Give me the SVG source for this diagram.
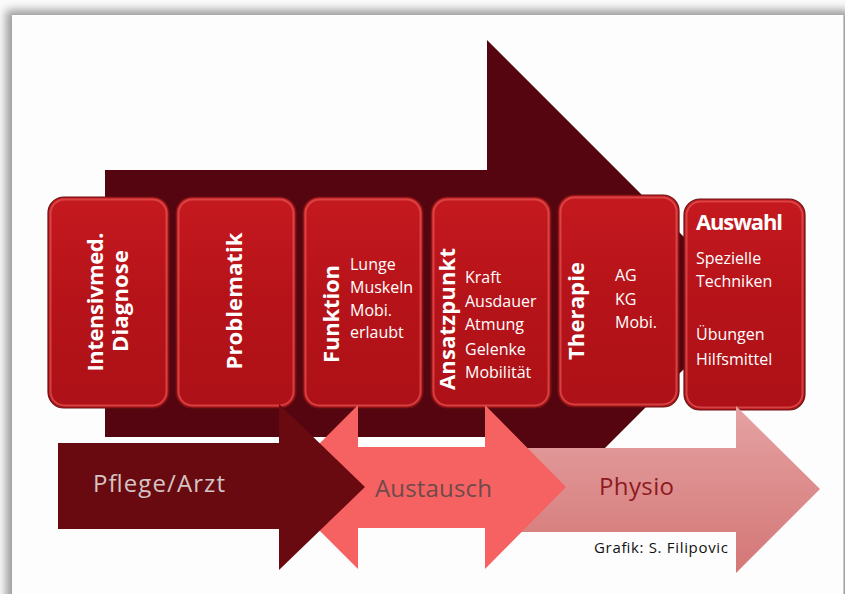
<svg xmlns="http://www.w3.org/2000/svg" width="845" height="594" viewBox="0 0 845 594">
  <defs>
    <filter id="cardShadow" x="-5%" y="-5%" width="110%" height="110%">
      <feGaussianBlur stdDeviation="5"/>
    </filter>
    <linearGradient id="boxGloss" x1="0" y1="0" x2="0" y2="1">
      <stop offset="0" stop-color="#c4191f"/>
      <stop offset="0.5" stop-color="#b51319"/>
      <stop offset="1" stop-color="#ad1117"/>
    </linearGradient>
    <linearGradient id="physioFill" x1="0" y1="0" x2="0" y2="1">
      <stop offset="0" stop-color="#e5a2a2"/>
      <stop offset="1" stop-color="#d47676"/>
    </linearGradient>
    <style>
      .box { fill: url(#boxGloss); stroke: #6a1212; stroke-width: 1.2; }
      .rim { fill: none; stroke: #e25252; stroke-width: 2; opacity: 0.75; }
      .head { font-family: "Open Sans", "DejaVu Sans", sans-serif; font-weight: 700; font-size: 22px; fill: #ffffff; }
      .item { font-family: "Open Sans", "DejaVu Sans", sans-serif; font-size: 16px; fill: #ffffff; }
      .flow { font-family: "Open Sans", "DejaVu Sans", sans-serif; font-size: 24px; }
      .credit { font-family: "Open Sans", "DejaVu Sans", sans-serif; font-size: 15px; fill: #111111; }
    </style>
  </defs>

  <!-- page and card -->
  <rect x="0" y="0" width="845" height="594" fill="#fbfbfb"/>
  <rect x="6" y="10" width="845" height="600" fill="#9a9a9a" filter="url(#cardShadow)"/>
  <rect x="12" y="15" width="831" height="600" fill="#fdfdfd"/>
  <line x1="843.5" y1="15" x2="843.5" y2="594" stroke="#c8c8c8" stroke-width="1"/>

  <!-- large background arrow -->
  <g id="main-arrow">
    <path d="M105,170 L487,170 L487,40 L750,303 L487,566 L487,437 L105,437 Z" fill="#55050f"/>
  </g>

  <!-- step boxes -->
  <g id="box-diagnose">
    <rect class="box" x="48" y="197" width="121" height="211" rx="16"/>
    <rect class="rim" x="50.5" y="199.5" width="116" height="206" rx="14"/>
    <g transform="translate(103,302) rotate(-90)">
      <text class="head" x="0" y="0" text-anchor="middle" textLength="139">Intensivmed.</text>
    </g>
    <g transform="translate(128,301) rotate(-90)">
      <text class="head" x="0" y="0" text-anchor="middle" textLength="102">Diagnose</text>
    </g>
  </g>

  <g id="box-problematik">
    <rect class="box" x="176" y="197" width="120" height="211" rx="16"/>
    <rect class="rim" x="178.5" y="199.5" width="115" height="206" rx="14"/>
    <g transform="translate(242,301) rotate(-90)">
      <text class="head" x="0" y="0" text-anchor="middle" textLength="137">Problematik</text>
    </g>
  </g>

  <g id="box-funktion">
    <rect class="box" x="303" y="197" width="120" height="211" rx="16"/>
    <rect class="rim" x="305.5" y="199.5" width="115" height="206" rx="14"/>
    <g transform="translate(339,314) rotate(-90)">
      <text class="head" x="0" y="0" text-anchor="middle" textLength="98">Funktion</text>
    </g>
    <text class="item" x="350" y="270">Lunge</text>
    <text class="item" x="350" y="293">Muskeln</text>
    <text class="item" x="350" y="316">Mobi.</text>
    <text class="item" x="350" y="338">erlaubt</text>
  </g>

  <g id="box-ansatzpunkt">
    <rect class="box" x="431" y="197" width="120" height="211" rx="16"/>
    <rect class="rim" x="433.5" y="199.5" width="115" height="206" rx="14"/>
    <g transform="translate(455,319) rotate(-90)">
      <text class="head" x="0" y="0" text-anchor="middle" textLength="142">Ansatzpunkt</text>
    </g>
    <text class="item" x="465" y="283">Kraft</text>
    <text class="item" x="465" y="307">Ausdauer</text>
    <text class="item" x="465" y="330">Atmung</text>
    <text class="item" x="465" y="355">Gelenke</text>
    <text class="item" x="465" y="378">Mobilität</text>
  </g>

  <g id="box-therapie">
    <rect class="box" x="558" y="195" width="121" height="212" rx="16"/>
    <rect class="rim" x="560.5" y="197.5" width="116" height="207" rx="14"/>
    <g transform="translate(584,311) rotate(-90)">
      <text class="head" x="0" y="0" text-anchor="middle" textLength="98">Therapie</text>
    </g>
    <text class="item" x="615" y="281">AG</text>
    <text class="item" x="615" y="305">KG</text>
    <text class="item" x="615" y="328">Mobi.</text>
  </g>

  <g id="box-auswahl">
    <rect class="box" x="684" y="199" width="121" height="211" rx="16"/>
    <rect class="rim" x="686.5" y="201.5" width="116" height="206" rx="14"/>
    <text class="head" x="696" y="230" textLength="87">Auswahl</text>
    <text class="item" x="696" y="264">Spezielle</text>
    <text class="item" x="696" y="287">Techniken</text>
    <text class="item" x="696" y="340">Übungen</text>
    <text class="item" x="696" y="365">Hilfsmittel</text>
  </g>

  <!-- lower flow arrows -->
  <g id="flow-physio">
    <path d="M486,448 L736,448 L736,406 L820,489 L736,573 L736,532 L486,532 Z" fill="url(#physioFill)"/>
    <text class="flow" x="599" y="495" fill="#8c1a1e" textLength="75">Physio</text>
  </g>

  <g id="flow-austausch">
    <path d="M276,487 L358,405 L358,447 L485,447 L485,405 L566,487 L485,569 L485,528 L358,528 L358,569 Z" fill="#f66262"/>
    <text class="flow" x="375" y="497" fill="#6e4a4a" textLength="117">Austausch</text>
  </g>

  <g id="flow-pflege">
    <path d="M58,443 L279,443 L279,404 L365,487 L279,570 L279,529 L58,529 Z" fill="#690a10"/>
    <text class="flow" x="93" y="492" fill="#d4c4c4" textLength="132">Pflege/Arzt</text>
  </g>

  <text class="credit" x="594" y="553" textLength="134">Grafik: S. Filipovic</text>
</svg>
